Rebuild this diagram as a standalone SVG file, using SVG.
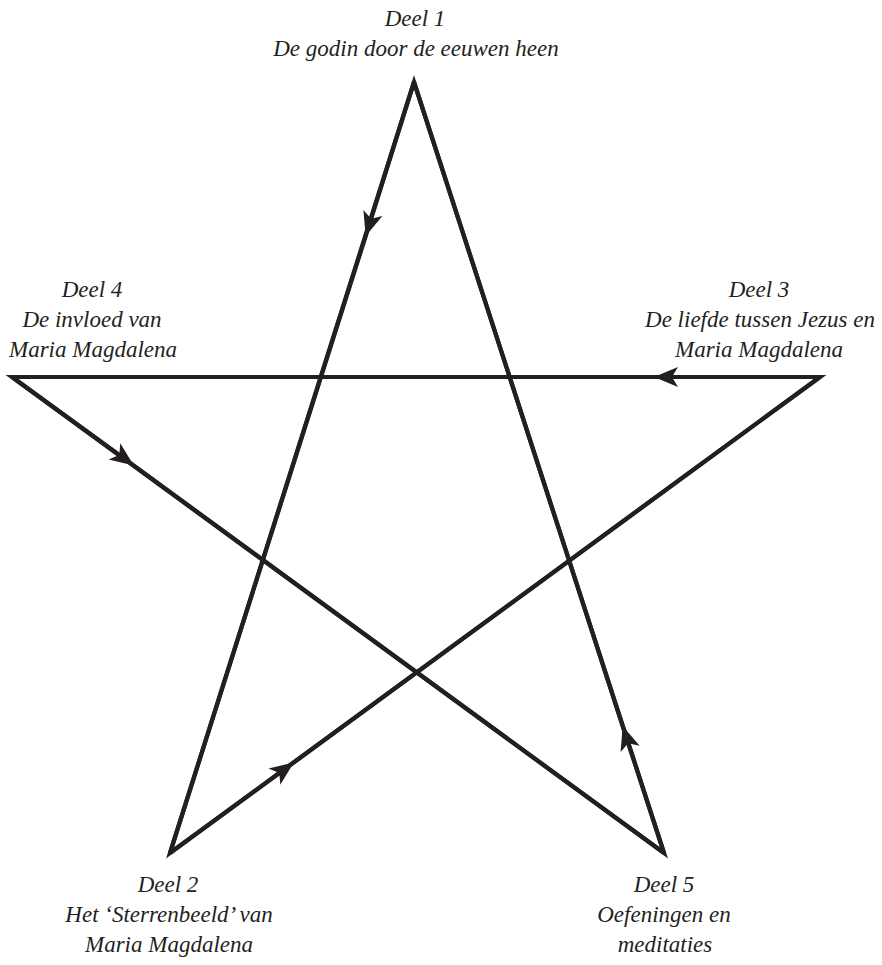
<svg xmlns="http://www.w3.org/2000/svg" width="882" height="965" viewBox="0 0 882 965">
<style>
.edge{fill:none;stroke:#231f20;stroke-width:4.2;stroke-linejoin:miter;stroke-linecap:butt;marker-mid:url(#arr)}
text{font-family:'Liberation Serif','Times New Roman',serif;font-style:italic;font-size:23px;fill:#231f20;text-anchor:middle}
</style>
<defs>
<marker id="arr" markerUnits="userSpaceOnUse" markerWidth="40" markerHeight="40" viewBox="-30 -15 40 30" refX="0" refY="0" orient="auto">
<path d="M1,0 L-23,-10 L-17,0 L-23,10 Z" fill="#231f20"/>
</marker>
</defs>
<rect width="882" height="965" fill="#fff"/>
<g id="connectors">
<polyline class="edge" points="414,82 366,235 170,853"/>
<polyline class="edge" points="170,853 293,763 820,377"/>
<polyline class="edge" points="820,377 655,377 12,377"/>
<polyline class="edge" points="12,377 133,465 664,853"/>
<polyline class="edge" points="664,853 623,727 414,82"/>
<path d="M414,82 L170,853 L820,377 L12,377 L664,853 Z" fill="none" stroke="#231f20" stroke-width="4.2" stroke-linejoin="miter"/>
</g>
<g id="deel1"><text x="415" y="26">Deel 1</text><text x="416" y="56">De godin door de eeuwen heen</text></g>
<g id="deel4"><text x="92" y="297">Deel 4</text><text x="92" y="327">De invloed van</text><text x="93" y="357">Maria Magdalena</text></g>
<g id="deel3"><text x="759" y="297">Deel 3</text><text x="760" y="327">De liefde tussen Jezus en</text><text x="759" y="357">Maria Magdalena</text></g>
<g id="deel2"><text x="168" y="892">Deel 2</text><text x="169" y="922">Het ‘Sterrenbeeld’ van</text><text x="169" y="952">Maria Magdalena</text></g>
<g id="deel5"><text x="664" y="892">Deel 5</text><text x="664" y="922">Oefeningen en</text><text x="665" y="952">meditaties</text></g>
</svg>
